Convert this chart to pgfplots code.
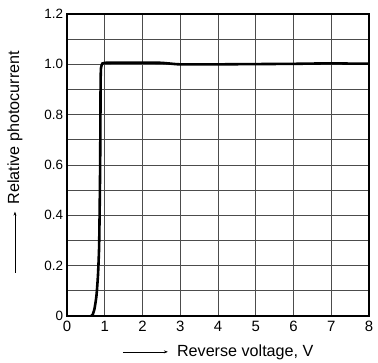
\documentclass[border=0pt]{standalone}
\usepackage{fontspec}
\setmainfont{Liberation Sans}
\usepackage{pgfplots}
\pgfplotsset{compat=1.18}
\usetikzlibrary{arrows.meta}
\newcommand{\arr}[1]{\tikz[baseline=-0.5ex]\draw[line width=0.5pt,-{Stealth[length=4pt,width=3pt]}] (0,0)--(#1,0);}
\begin{document}
\begin{tikzpicture}[x=1bp,y=1bp]
\begin{axis}[
  scale only axis,
  width=302bp, height=302bp,
  xmin=0, xmax=8, ymin=0, ymax=1.2,
  xtick={0,1,...,8},
  ytick={0,0.2,0.4,0.6,0.8,1.0,1.2},
  yticklabels={0,0.2,0.4,0.6,0.8,1.0,1.2},
  minor ytick={0.1,0.3,0.5,0.7,0.9,1.1},
  grid=both,
  major grid style={line width=0.9pt, color=black!70},
  minor grid style={line width=0.9pt, color=black!70},
  major tick length=0pt, minor tick length=0pt,
  axis line style={line width=1.6pt},
  /pgf/number format/assume math mode=true,
  xticklabel style={font=\fontsize{15}{16}\selectfont, yshift=-2bp},
  yticklabel style={font=\fontsize{13.5}{15}\selectfont, xshift=-0.5bp},
  xlabel={\arr{45bp}\hspace{9bp}Reverse voltage, V},
  ylabel={\arr{61bp}\hspace{7bp}Relative photocurrent},
  label style={font=\fontsize{16.2}{18}\selectfont},
  xlabel style={at={(axis description cs:0.5,-0.119)}, anchor=center},
  ylabel style={at={(axis description cs:-0.172,0.51)}, anchor=center},
  clip=true,
]
\addplot[line width=2.6pt, black, smooth, tension=0.3] coordinates {
(0.64,0) (0.68,0.005) (0.73,0.03) (0.78,0.08) (0.82,0.16) (0.85,0.27)
(0.865,0.42) (0.878,0.6) (0.886,0.8) (0.89,0.93) (0.9,0.985) (0.935,1.003)
(1,1.006) (1.5,1.007) (2,1.007) (2.5,1.006) (2.8,1.002) (3,1.0)
(4,1.0) (5,1.001) (6,1.002) (7,1.004) (7.5,1.003) (8,1.003)
};
\end{axis}
\path ([shift={(-67bp,-44bp)}]current axis.south west);
\path ([shift={(9bp,14bp)}]current axis.north east);
\end{tikzpicture}
\end{document}
